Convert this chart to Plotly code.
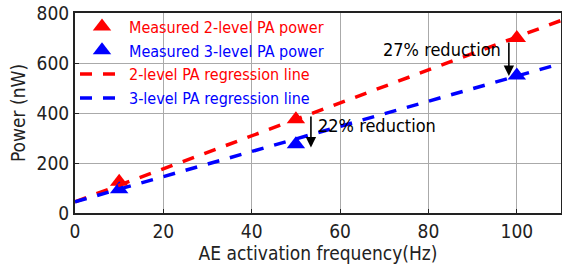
import plotly.graph_objects as go

x_meas = [10, 50, 100]
p2_meas = [125, 375, 700]
p3_meas = [95, 275, 550]
x_reg = [0, 110]
p2_reg = [45, 770]
p3_reg = [45, 598]

FONT = "DejaVu Sans Condensed"
fig = go.Figure()
fig.add_trace(go.Scatter(x=x_meas, y=p2_meas, mode="markers",
                         name="<span style='color:red'>Measured 2-level PA power</span>",
                         marker=dict(symbol="triangle-up", size=16, color="red")))
fig.add_trace(go.Scatter(x=x_meas, y=p3_meas, mode="markers",
                         name="<span style='color:blue'>Measured 3-level PA power</span>",
                         marker=dict(symbol="triangle-up", size=16, color="blue")))
fig.add_trace(go.Scatter(x=x_reg, y=p2_reg, mode="lines",
                         name="<span style='color:red'>2-level PA regression line</span>",
                         line=dict(color="red", width=3.5, dash="12px,11px")))
fig.add_trace(go.Scatter(x=x_reg, y=p3_reg, mode="lines",
                         name="<span style='color:blue'>3-level PA regression line</span>",
                         line=dict(color="blue", width=3.5, dash="12px,11px")))

fig.add_annotation(x=98.2, y=548, ax=98.2, ay=688, xref="x", yref="y", axref="x", ayref="y",
                   showarrow=True, arrowhead=2, arrowsize=1.3, arrowwidth=1.6, arrowcolor="black", text="")
fig.add_annotation(x=96.8, y=656, text="27% reduction", showarrow=False, xanchor="right",
                   font=dict(size=18, color="black", family=FONT))
fig.add_annotation(x=53.4, y=262, ax=53.4, ay=392, xref="x", yref="y", axref="x", ayref="y",
                   showarrow=True, arrowhead=2, arrowsize=1.3, arrowwidth=1.6, arrowcolor="black", text="")
fig.add_annotation(x=54.5, y=350, text="22% reduction", showarrow=False, xanchor="left",
                   font=dict(size=18, color="black", family=FONT))

axis_common = dict(showline=True, linecolor="#222", linewidth=2, mirror=True, ticks="inside",
                   ticklen=4, tickcolor="#222", showgrid=True, gridcolor="#aaa", gridwidth=1,
                   zeroline=False, automargin=False, ticklabeloverflow="allow",
                   tickfont=dict(size=19, color="#222", family=FONT))
fig.update_xaxes(range=[0, 110], dtick=20, title=dict(text="AE activation frequency(Hz)", standoff=4,
                 font=dict(size=19, color="#222", family=FONT)), **axis_common)
fig.update_yaxes(range=[0, 800], dtick=200, title=dict(text="Power (nW)", standoff=6,
                 font=dict(size=19, color="#222", family=FONT)), **axis_common)

fig.update_layout(width=562, height=271, margin=dict(l=75, r=1, t=13, b=58),
                  plot_bgcolor="white", paper_bgcolor="white",
                  showlegend=True,
                  legend=dict(x=0.0, y=1.017, xanchor="left", yanchor="top", bgcolor="rgba(0,0,0,0)",
                              font=dict(size=16, family=FONT), tracegroupgap=0, itemwidth=44))
fig.write_html("out.html", config={"displayModeBar": False},
               post_script="document.body.style.margin='0';document.body.style.overflow='hidden';")
